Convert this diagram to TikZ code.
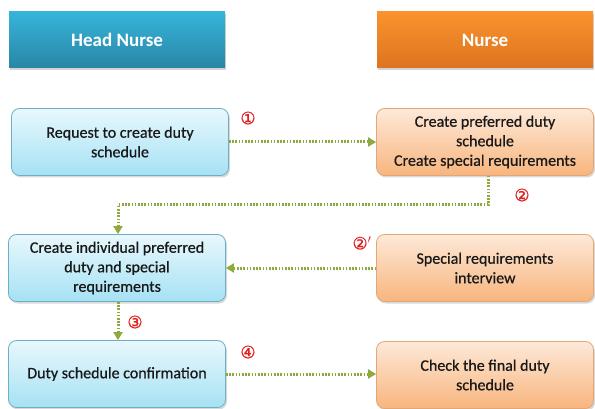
\documentclass[tikz,border=0pt]{standalone}
\usepackage{fontspec}
\setmainfont{Carlito}
\newfontfamily\cardf[FakeBold=0.7]{Carlito}
\newfontfamily\symf[FakeBold=0.8]{DejaVu Sans}
\usetikzlibrary{shadows,arrows.meta}
\definecolor{hbTop}{HTML}{36B4DA}
\definecolor{hbBot}{HTML}{2986A6}
\definecolor{hoTop}{HTML}{F9932C}
\definecolor{hoBot}{HTML}{DE7420}
\definecolor{bTop}{HTML}{E8F8FD}
\definecolor{bBot}{HTML}{A6E1F4}
\definecolor{bLine}{HTML}{6FAFC4}
\definecolor{oTop}{HTML}{FDE9D8}
\definecolor{oBot}{HTML}{F8B57E}
\definecolor{oLine}{HTML}{E3A777}
\definecolor{flow}{HTML}{8DAA3C}
\definecolor{numred}{HTML}{E02020}
\tikzset{
  hdr/.style={minimum width=216pt, minimum height=56pt, inner sep=0pt,
    text=white, font=\bfseries\fontsize{19}{22}\selectfont,
    drop shadow={shadow xshift=1pt, shadow yshift=-2pt, opacity=0.35}},
  hdrblue/.style={hdr, top color=hbTop, bottom color=hbBot},
  hdrorange/.style={hdr, top color=hoTop, bottom color=hoBot},
  card/.style={rounded corners=8pt, minimum width=217pt, minimum height=67pt,
    inner sep=2pt, align=center, font=\cardf\fontsize{16}{19.5}\selectfont,
    text=black!90, line width=0.8pt,
    drop shadow={shadow xshift=1.5pt, shadow yshift=-2pt, opacity=0.3}},
  bluecard/.style={card, draw=bLine, top color=bTop, bottom color=bBot},
  orangecard/.style={card, draw=oLine, top color=oTop, bottom color=oBot},
  flowline/.style={draw=flow, line width=3pt, dash pattern=on 1.6pt off 1.6pt,
    -{Triangle[length=8pt,width=9pt,fill=flow]}},
  num/.style={text=numred, font=\symf\fontsize{17}{19}\selectfont, inner sep=0pt}
}
\begin{document}
\begin{tikzpicture}[x=1pt,y=-1pt]
\useasboundingbox (0,0) rectangle (595,409);
\node[hdrblue] (hh) at (117,40) {Head Nurse};
\node[hdrorange] (hn) at (485,40) {Nurse};

\node[bluecard] (b1) at (120,142) {Request to create duty\\schedule};
\node[orangecard] (o1) at (485,142) {Create preferred duty\\schedule\\Create special requirements};
\node[bluecard] (b2) at (117,268) {Create individual preferred\\duty and special\\requirements};
\node[orangecard] (o2) at (485,268) {Special requirements\\interview};
\node[bluecard] (b3) at (117,374) {Duty schedule confirmation};
\node[orangecard] (o3) at (485,375) {Check the final duty\\schedule};

\coordinate (c1) at (488,205);
\coordinate (c2) at (118,205);

\draw[flowline] (b1.east) -- (o1.west);
\draw[flowline] (o1.south -| c1) -- (c1) -- (c2) -- (c2 |- b2.north);
\draw[flowline] (o2.west) -- (b2.east);
\draw[flowline] (b2.south -| c2) -- (c2 |- b3.north);
\draw[flowline] (b3.east) -- (b3.east -| o3.west);

\node[num] (n1) at (248,118) {①};
\node[num] (n2) at (522,195) {②};
\node[num] (n2p) at (362,243) {②$'$};
\node[num] (n3) at (135,322) {③};
\node[num] (n4) at (248,352) {④};
\end{tikzpicture}
\end{document}
